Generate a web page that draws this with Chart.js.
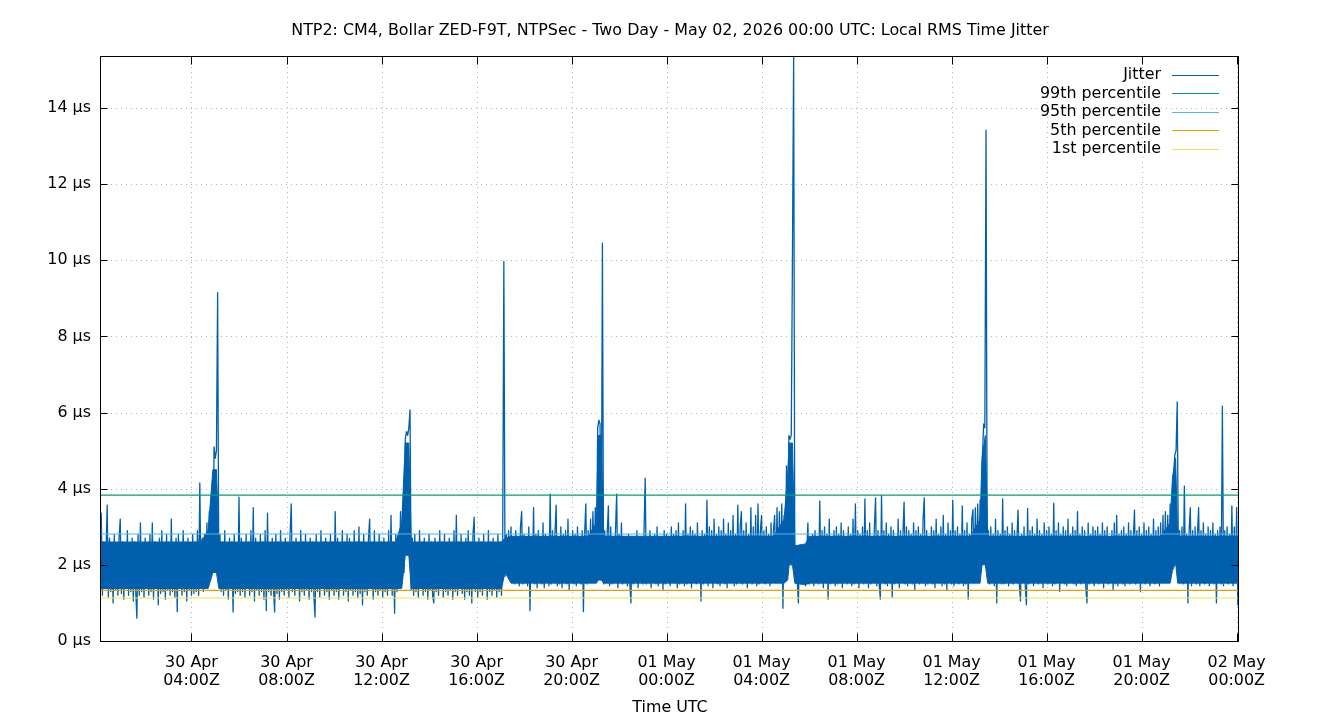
<!DOCTYPE html>
<html><head><meta charset="utf-8">
<script src="https://cdn.jsdelivr.net/npm/chart.js@4.4.0/dist/chart.umd.min.js"></script>
<style>html,body{margin:0;padding:0;background:#fff}#wrap{width:1340px;height:720px}</style>
</head><body><div id="wrap"><canvas id="c" width="1340" height="720"></canvas></div>
<script>
const chartTitle = 'NTP2: CM4, Bollar ZED-F9T, NTPSec - Two Day - May 02, 2026 00:00 UTC: Local RMS Time Jitter';
const xAxisTitle = 'Time UTC';
const seriesLabels = ['Jitter', '99th percentile', '95th percentile', '5th percentile', '1st percentile'];
const seriesColors = ['#0060ad', '#009e73', '#56b4e9', '#e69f00', '#f0e442'];

// samples: hours since 30 Apr 00:00 UTC, one every 3 minutes (each row = 1 hour)
const sampleStartHour = 0.15;
const sampleStepHours = 0.05;
// jitter in µs
const jitterValues = [
1.3,3.36,1.2,2.6,1.4,2.3,3.57,1.15,2.7,1.3,2.5,1.0,2.8,1.35,2.4,1.2,2.7,3.2,1.25,2.6,
1.1,2.5,1.4,2.9,1.2,2.4,1.3,2.7,1.05,2.6,1.35,0.6,2.8,1.2,3.1,1.3,2.5,1.15,2.7,1.4,
2.4,1.2,2.8,1.3,3.1,1.1,2.6,1.4,2.5,0.95,2.7,1.25,2.9,1.3,2.4,1.1,2.8,1.35,2.6,1.2,
3.2,1.3,2.5,1.15,2.7,0.77,2.8,1.4,2.4,1.2,2.9,1.3,2.6,1.05,2.7,1.35,2.5,1.2,2.8,1.25,
2.6,1.3,2.9,1.2,4.15,1.4,2.7,1.3,2.8,1.45,3.1,1.5,3.4,1.6,3.2,1.8,5.1,4.8,5.0,9.15,
1.7,2.8,1.3,2.6,1.2,2.9,1.35,2.5,1.1,2.7,1.4,2.6,0.76,2.8,1.25,2.4,1.3,3.78,1.2,2.7,
1.3,2.5,1.15,2.8,1.4,2.6,1.2,2.9,1.3,3.5,1.05,2.7,1.35,2.4,1.2,2.8,1.3,2.6,1.1,2.9,
0.8,3.36,1.3,2.5,1.2,2.7,1.4,0.76,2.8,1.25,2.6,1.1,2.9,1.3,2.4,1.2,2.7,1.35,2.5,1.15,
2.8,3.6,1.3,2.6,1.2,2.7,1.4,2.5,1.05,2.9,1.3,2.6,1.2,2.8,1.35,2.4,1.1,2.7,1.3,2.6,
1.2,0.63,2.8,1.3,2.5,1.15,2.9,1.4,2.6,1.2,2.7,1.3,2.4,1.1,2.8,1.35,2.6,1.2,3.4,1.3,
2.7,1.1,2.5,1.4,2.9,1.2,2.6,1.3,2.8,1.05,2.7,1.35,2.4,1.2,2.9,1.3,2.6,1.15,3.0,1.25,
2.6,0.95,2.8,1.3,2.5,1.2,2.7,3.2,1.4,2.6,1.1,2.9,1.3,2.4,1.2,2.8,1.35,2.6,1.15,2.7,
1.3,2.5,1.2,2.9,1.4,3.3,1.2,2.6,0.73,2.8,1.3,2.7,1.5,3.4,1.6,3.6,1.8,5.3,5.5,5.4,
5.6,6.07,1.35,2.7,1.2,2.8,1.3,2.5,1.15,2.9,1.4,2.6,1.2,2.7,1.3,2.4,1.1,2.8,1.35,2.6,
1.2,1.0,2.7,1.3,2.5,1.2,2.9,1.4,2.6,1.15,2.8,1.3,2.4,1.2,2.7,1.35,2.6,1.1,2.9,1.3,
3.3,1.2,2.6,1.4,2.8,1.25,2.5,1.1,2.7,1.3,2.9,1.2,2.6,1.0,2.8,3.25,1.3,2.5,1.15,2.7,
1.3,2.6,1.2,2.8,1.4,2.5,1.1,2.9,1.3,2.6,1.2,2.7,1.35,2.4,1.15,2.8,1.3,2.6,1.2,2.5,
9.97,1.7,2.8,1.8,2.9,1.75,3.0,1.7,2.7,1.5,2.9,1.6,2.6,1.45,3.0,3.4,1.5,2.8,1.6,2.7,
1.45,3.0,0.8,2.7,1.6,3.5,1.5,2.8,1.4,2.9,1.65,2.6,1.5,3.1,1.4,2.8,1.55,2.7,1.45,3.86,
1.5,2.9,1.6,2.8,3.57,1.45,2.7,1.5,3.0,1.4,2.8,1.6,2.9,1.5,3.2,1.35,2.7,1.55,2.9,1.5,
2.8,1.45,3.0,1.6,2.7,1.5,2.9,0.77,2.8,3.6,1.5,2.9,1.6,3.2,1.7,3.4,1.8,3.5,1.9,5.6,
5.8,5.7,2.0,10.45,1.5,2.9,1.6,2.8,3.55,1.45,3.0,1.5,2.7,1.6,2.9,3.86,1.4,2.8,1.55,3.1,
1.5,2.7,1.6,2.6,1.45,2.8,1.55,1.0,2.7,1.5,2.6,1.6,2.9,1.4,2.7,1.55,2.6,1.5,2.8,4.28,
1.5,2.7,1.6,2.9,1.4,2.6,1.55,2.8,1.5,3.0,1.45,2.7,1.6,2.6,1.35,2.9,1.5,2.8,1.6,2.7,
1.45,3.0,1.55,2.8,1.6,2.9,1.4,3.1,1.5,2.7,1.6,2.9,1.45,3.6,1.5,2.8,1.6,3.0,1.4,2.9,
1.55,2.8,1.5,3.1,1.6,2.7,1.05,2.9,1.5,2.8,1.6,3.7,1.45,3.0,1.55,2.9,1.4,3.2,1.6,2.8,
1.5,3.0,1.45,2.9,1.6,3.2,1.5,2.8,1.4,3.1,1.55,2.9,1.6,3.3,1.45,2.8,1.5,3.57,1.55,3.0,
3.4,1.5,2.9,1.6,3.1,1.4,2.8,1.55,3.5,1.5,3.0,1.6,3.3,1.45,3.6,1.5,2.9,3.3,1.55,2.9,
1.5,3.0,1.6,2.8,1.45,3.1,1.55,2.9,3.3,1.6,3.5,1.7,3.4,1.6,3.6,0.86,3.3,1.8,4.6,1.9,
5.4,5.3,5.4,10.1,15.34,1.95,2.4,1.6,1.0,2.5,1.5,2.4,1.6,2.5,1.45,2.3,3.1,1.5,2.7,1.6,
2.8,1.45,2.9,1.55,2.7,1.5,3.68,1.6,2.9,1.4,3.0,1.55,2.8,1.1,3.2,1.5,2.7,1.6,2.9,1.45,
3.0,1.5,2.8,1.6,3.1,1.4,2.9,1.55,2.7,1.5,3.0,1.6,2.8,1.45,3.2,1.5,3.6,1.55,2.9,1.4,
2.8,1.55,3.0,1.5,3.73,1.6,2.9,1.4,3.1,1.5,2.7,1.6,3.0,3.76,1.45,2.9,1.5,1.1,3.82,1.55,
2.9,1.5,3.1,1.45,2.8,1.6,3.0,1.15,2.9,1.5,2.7,1.55,3.2,1.4,2.9,1.6,2.8,3.65,1.5,3.0,
1.45,2.9,1.6,2.8,1.5,3.1,1.35,2.9,1.55,3.0,1.5,2.8,1.6,3.2,3.76,1.45,2.9,1.5,2.7,1.6,
3.0,1.5,2.9,1.4,3.2,1.55,2.8,1.6,3.0,1.45,3.3,1.5,2.8,1.35,3.1,1.6,2.9,1.5,3.7,1.45,
2.9,1.55,3.0,1.5,2.8,1.6,3.55,1.45,2.9,1.5,3.1,1.1,2.8,1.55,3.2,3.45,1.6,3.5,1.7,3.6,
1.75,3.7,1.9,4.9,5.7,5.6,13.42,1.95,2.9,1.5,3.0,1.6,2.8,1.45,3.2,1.0,2.9,1.55,2.8,1.5,
3.73,1.5,2.9,1.6,3.0,1.45,2.8,1.55,3.1,1.5,2.9,1.6,2.7,3.44,1.5,1.05,2.8,1.55,3.0,1.45,
0.95,3.48,1.5,2.9,1.6,3.0,1.45,2.8,1.55,3.2,1.5,2.9,1.6,2.8,1.4,3.1,1.55,2.9,1.5,3.0,
1.6,2.8,1.45,3.62,1.5,2.9,1.55,3.1,1.3,2.8,1.6,3.0,1.5,2.9,1.45,3.2,1.55,2.8,1.6,3.0,
1.5,2.9,1.45,3.4,1.6,2.8,1.5,3.0,1.55,2.9,1.4,1.0,3.1,1.5,2.8,1.6,3.0,1.45,2.9,1.55,
3.0,1.5,2.8,1.6,3.1,1.4,2.9,1.55,3.0,1.5,2.7,1.6,2.9,1.35,3.1,1.5,3.3,1.45,2.8,1.6,
2.9,1.5,3.0,1.45,2.8,1.6,3.1,1.5,2.9,1.55,2.7,3.44,1.5,2.9,1.6,3.0,1.3,2.8,1.55,3.1,
1.5,2.9,1.6,3.0,1.45,2.8,1.55,3.2,1.5,2.9,1.6,3.0,1.45,3.1,1.55,3.3,1.6,3.4,1.65,3.3,
1.7,3.6,1.8,3.5,4.4,4.9,5.0,6.28,2.0,2.9,1.6,3.0,1.5,4.07,1.55,2.8,1.0,2.9,3.5,1.45,
2.9,1.55,3.0,1.5,2.8,3.5,1.45,2.9,1.6,3.1,1.5,2.8,1.55,3.0,1.45,2.9,1.6,3.1,1.5,2.8,
1.0,2.9,1.55,3.0,1.5,6.17,1.45,2.9,1.6,3.0,1.5,2.8,1.55,3.55,1.45,3.0,1.6,3.5,0.95,1.2
];
// solid inner core of the jitter trace (where the samples overlap completely), µs
const coreHours = [0.19,4.4,4.7,4.9,5.05,5.15,12.6,12.85,13.0,13.15,13.25,17.05,17.2,17.45,20.7,21.05,21.12,21.25,21.35,28.5,28.95,29.1,29.16,29.3,29.4,29.85,30.0,36.8,37.2,37.28,37.42,37.52,44.8,45.2,45.3,45.43,45.52,48.1];
const coreLow  = [1.38,1.38,1.38,1.8,1.8,1.38,1.38,1.38,2.25,2.25,1.38,1.38,1.8,1.52,1.52,1.52,1.6,1.6,1.52,1.52,1.52,1.6,2.0,2.0,1.52,1.48,1.52,1.52,1.52,2.0,2.0,1.52,1.52,1.52,1.85,2.05,1.52,1.52];
const coreHigh = [2.6,2.6,2.9,4.5,4.5,2.6,2.6,3.1,5.2,5.2,2.6,2.6,2.7,2.75,2.75,3.1,5.4,5.4,2.75,2.75,3.2,4.4,5.2,5.2,2.5,2.55,2.75,2.75,3.2,4.8,5.4,2.75,2.75,3.1,4.3,4.8,2.75,2.75];
// horizontal percentile levels, µs: 99th, 95th, 5th, 1st
const percentileValues = [3.83, 2.81, 1.33, 1.13];

const xRangeHours = [0.19, 48.1];
const yRange = [0, 15.34];
const xTickHours = [4, 8, 12, 16, 20, 24, 28, 32, 36, 40, 44, 48];
const xTickLabels = [
  ['30 Apr','04:00Z'], ['30 Apr','08:00Z'], ['30 Apr','12:00Z'], ['30 Apr','16:00Z'],
  ['30 Apr','20:00Z'], ['01 May','00:00Z'], ['01 May','04:00Z'], ['01 May','08:00Z'],
  ['01 May','12:00Z'], ['01 May','16:00Z'], ['01 May','20:00Z'], ['02 May','00:00Z']
];
const yTickValues = [0, 2, 4, 6, 8, 10, 12, 14];
const yTickLabels = ['0 µs', '2 µs', '4 µs', '6 µs', '8 µs', '10 µs', '12 µs', '14 µs'];

const FONT = 'DejaVu Sans';
const FS = 15.9;
Chart.defaults.font.family = FONT;
Chart.defaults.color = '#000';

const jitterPoints = jitterValues.map((v, i) => ({x: +(sampleStartHour + i * sampleStepHours).toFixed(3), y: v}));
const datasets = [];
percentileValues.forEach((p, k) => {
  datasets.push({
    label: seriesLabels[k + 1],
    data: [{x: xRangeHours[0], y: p}, {x: xRangeHours[1], y: p}],
    borderColor: seriesColors[k + 1], backgroundColor: seriesColors[k + 1],
    borderWidth: 1.2, pointRadius: 0, order: 0
  });
});
datasets.push({
  label: seriesLabels[0], data: jitterPoints, borderColor: seriesColors[0], backgroundColor: seriesColors[0],
  borderWidth: 1.3, pointRadius: 0, tension: 0, borderJoinStyle: 'round', order: 1
});
const coreLowIndex = datasets.length;
datasets.push({
  label: 'core-low', data: coreHours.map((h, i) => ({x: h, y: coreLow[i]})),
  borderColor: seriesColors[0], borderWidth: 1, pointRadius: 0, fill: false, order: 2
});
datasets.push({
  label: 'core-high', data: coreHours.map((h, i) => ({x: h, y: coreHigh[i]})),
  borderColor: seriesColors[0], backgroundColor: seriesColors[0], borderWidth: 1, pointRadius: 0,
  fill: {target: coreLowIndex}, order: 2
});

const framePlugin = {
  id: 'frame',
  beforeDatasetsDraw(chart) {
    const {ctx, chartArea: a, scales: {x, y}} = chart;
    ctx.save();
    ctx.strokeStyle = '#b4b4b4';
    ctx.lineWidth = 1;
    ctx.setLineDash([1, 4]);
    xTickHours.forEach(h => {
      const px = Math.round(x.getPixelForValue(h)) + 0.5;
      ctx.beginPath(); ctx.moveTo(px, a.top); ctx.lineTo(px, a.bottom); ctx.stroke();
    });
    yTickValues.forEach(v => {
      if (v === yRange[0]) return;
      const py = Math.round(y.getPixelForValue(v)) + 0.5;
      ctx.beginPath(); ctx.moveTo(a.left, py); ctx.lineTo(a.right, py); ctx.stroke();
    });
    ctx.restore();
  },
  afterDatasetsDraw(chart) {
    const {ctx, chartArea: a, scales: {x, y}} = chart;
    ctx.save();
    ctx.strokeStyle = '#000';
    ctx.lineWidth = 1;
    ctx.setLineDash([]);
    const L = Math.round(a.left) - 0.5, R = Math.round(a.right) - 0.5;
    const T = Math.round(a.top) - 0.5, B = Math.round(a.bottom) + 0.5;
    ctx.strokeRect(L, T, R - L, B - T);
    ctx.beginPath();
    xTickHours.forEach(h => {
      const px = Math.round(x.getPixelForValue(h)) + 0.5;
      ctx.moveTo(px, B); ctx.lineTo(px, B - 8);
      ctx.moveTo(px, T); ctx.lineTo(px, T + 8);
    });
    yTickValues.forEach(v => {
      const py = Math.round(y.getPixelForValue(v)) + 0.5;
      ctx.moveTo(L, py); ctx.lineTo(L + 7, py);
      ctx.moveTo(R, py); ctx.lineTo(R - 7, py);
    });
    ctx.stroke();
    // legend
    ctx.font = FS + 'px "' + FONT + '"';
    ctx.textAlign = 'right';
    ctx.textBaseline = 'middle';
    seriesLabels.forEach((label, k) => {
      const ly = a.top + 18 + 18.5 * k;
      ctx.fillStyle = '#000';
      ctx.fillText(label, a.right - 78, ly);
      ctx.strokeStyle = seriesColors[k];
      ctx.lineWidth = 1;
      ctx.beginPath();
      ctx.moveTo(a.right - 67, Math.round(ly) + 0.5);
      ctx.lineTo(a.right - 20, Math.round(ly) + 0.5);
      ctx.stroke();
    });
    ctx.restore();
  }
};

new Chart(document.getElementById('c'), {
  type: 'line',
  data: {datasets},
  options: {
    responsive: false,
    devicePixelRatio: 1,
    animation: false,
    normalized: true,
    layout: {padding: {left: 0, right: 0, top: 0, bottom: 0}},
    plugins: {
      legend: {display: false},
      tooltip: {enabled: false},
      title: {
        display: true, text: chartTitle, color: '#000',
        font: {family: FONT, size: FS, weight: 'normal', lineHeight: 1.2},
        padding: {top: 21.2, bottom: 16.7}
      }
    },
    scales: {
      x: {
        type: 'linear', min: xRangeHours[0], max: xRangeHours[1],
        grid: {display: false}, border: {display: false},
        afterBuildTicks: s => { s.ticks = xTickHours.map(v => ({value: v})); },
        afterFit: s => { s.height = 79; },
        ticks: {
          autoSkip: false, maxRotation: 0, minRotation: 0, padding: 4.5, color: '#000',
          font: {family: FONT, size: FS, lineHeight: 1.15},
          callback: v => xTickLabels[xTickHours.indexOf(v)]
        },
        title: {display: true, text: xAxisTitle, color: '#000', font: {family: FONT, size: FS, lineHeight: 1.2}, padding: {top: 0, bottom: 2.4}}
      },
      y: {
        type: 'linear', position: 'left', min: yRange[0], max: yRange[1],
        grid: {display: false, drawTicks: false}, border: {display: false},
        afterBuildTicks: s => { s.ticks = yTickValues.map(v => ({value: v})); },
        afterFit: s => { s.width = 101; },
        ticks: {
          padding: 10, color: '#000', font: {family: FONT, size: FS},
          callback: v => yTickLabels[yTickValues.indexOf(v)]
        }
      },
      yRight: {
        type: 'linear', position: 'right', min: 0, max: 1,
        grid: {display: false}, border: {display: false},
        ticks: {display: false},
        afterFit: s => { s.width = 101; }
      }
    }
  },
  plugins: [framePlugin]
});
</script>
</body></html>
